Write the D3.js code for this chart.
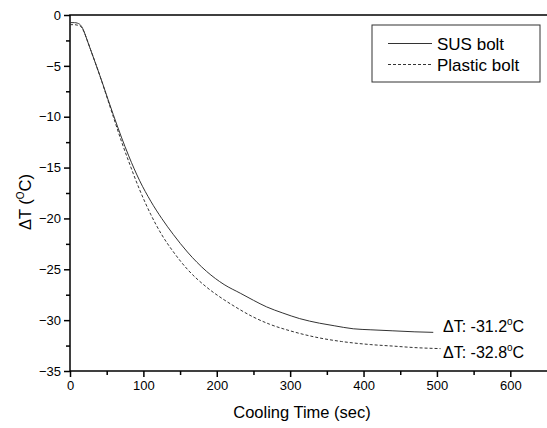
<!DOCTYPE html>
<html>
<head>
<meta charset="utf-8">
<script src="https://cdn.jsdelivr.net/npm/d3@7"></script>
<style>
  body { margin: 0; background: #fff; }
  svg { display: block; }
  svg text { font-family: "Liberation Sans", Arial, sans-serif; fill: #000; }
</style>
</head>
<body>
<svg id="chart" width="547" height="428"></svg>
<script>
// ---- data ----
const susTime  = [0, 6, 10, 13, 16, 19, 23, 28, 36, 45, 52, 59, 70, 80, 95, 110, 125, 141, 160, 186, 210, 232, 250, 268, 290, 313, 340, 360, 386, 410, 440, 470, 495];
const susDT    = [-0.75, -0.75, -0.8, -0.9, -1.15, -1.6, -2.4, -3.4, -5.0, -6.85, -8.35, -9.8, -12.0, -13.85, -16.3, -18.3, -20.0, -21.6, -23.3, -25.2, -26.5, -27.35, -28.05, -28.7, -29.3, -29.85, -30.3, -30.55, -30.85, -30.95, -31.05, -31.15, -31.2];
const plasticTime = [0, 6, 10, 13, 16, 19, 23, 28, 36, 45, 52, 59, 70, 80, 95, 110, 125, 141, 160, 186, 210, 222, 250, 272, 300, 340, 370, 409, 440, 470, 505];
const plasticDT   = [-0.95, -0.95, -1.0, -1.05, -1.25, -1.65, -2.4, -3.4, -5.0, -6.9, -8.45, -10.0, -12.4, -14.4, -17.2, -19.6, -21.6, -23.3, -25.0, -26.75, -28.0, -28.55, -29.7, -30.4, -31.05, -31.75, -32.1, -32.4, -32.55, -32.7, -32.8];
const seriesNames = ["SUS bolt", "Plastic bolt"];
const xTicks = [0, 100, 200, 300, 400, 500, 600];
const yTicks = [0, -5, -10, -15, -20, -25, -30, -35];
const annotations = ["-31.2", "-32.8"];

// ---- layout ----
const svg = d3.select("#chart");
const L = 70, R = 547, T = 15, B = 371;
const FONT = "'Liberation Sans', Arial, sans-serif";
const x = d3.scaleLinear().domain([0, 650]).range([L, R]);
const y = d3.scaleLinear().domain([-35, 0]).range([B, T]);

// frame
svg.append("rect").attr("x", L).attr("y", T).attr("width", R + 5 - L).attr("height", B - T)
  .attr("fill", "none").attr("stroke", "#000").attr("stroke-width", 1.5);

// minor ticks
const xMinor = d3.range(50, 650, 100);
const yMinor = d3.range(-2.5, -35, -5);
svg.append("g").attr("transform", `translate(0,${B})`)
  .call(d3.axisBottom(x).tickValues(xMinor).tickSize(4).tickFormat(""))
  .call(g => g.select(".domain").remove())
  .selectAll("line").attr("stroke-width", 1.5);
svg.append("g").attr("transform", `translate(${L},0)`)
  .call(d3.axisLeft(y).tickValues(yMinor).tickSize(4).tickFormat(""))
  .call(g => g.select(".domain").remove())
  .selectAll("line").attr("stroke-width", 1.5);

// major ticks
const gx = svg.append("g").attr("transform", `translate(0,${B})`)
  .call(d3.axisBottom(x).tickValues(xTicks).tickSize(6).tickPadding(4).tickFormat(d3.format("d")))
  .attr("font-family", FONT).attr("font-size", 13);
gx.select(".domain").remove();
gx.selectAll("line").attr("stroke-width", 1.5);

const gy = svg.append("g").attr("transform", `translate(${L},0)`)
  .call(d3.axisLeft(y).tickValues(yTicks).tickSize(6).tickPadding(3).tickFormat(d3.format("d")))
  .attr("font-family", FONT).attr("font-size", 13);
gy.select(".domain").remove();
gy.selectAll("line").attr("stroke-width", 1.5);

// lines
const line = d3.line().x(d => x(d[0])).y(d => y(d[1])).curve(d3.curveMonotoneX);
const susData = susTime.map((t, i) => [t, susDT[i]]);
const plData = plasticTime.map((t, i) => [t, plasticDT[i]]);
svg.append("path").datum(susData).attr("d", line)
  .attr("fill", "none").attr("stroke", "#333").attr("stroke-width", 1);
svg.append("path").datum(plData).attr("d", line)
  .attr("fill", "none").attr("stroke", "#333").attr("stroke-width", 1).attr("stroke-dasharray", "3,2");

// axis titles
svg.append("text").attr("x", 302).attr("y", 418).attr("text-anchor", "middle")
  .attr("font-size", 16.5).text("Cooling Time (sec)");
const yt = svg.append("text").attr("transform", "translate(31,202) rotate(-90)")
  .attr("text-anchor", "middle").attr("font-size", 16.5);
yt.append("tspan").text("\u0394T (");
yt.append("tspan").attr("font-size", 10).attr("dy", -7).text("O");
yt.append("tspan").attr("dy", 7).text("C)");

// legend
const lg = svg.append("g");
lg.append("rect").attr("x", 372).attr("y", 25).attr("width", 168).attr("height", 57)
  .attr("fill", "#fff").attr("stroke", "#333").attr("stroke-width", 1);
[0, 1].forEach(i => {
  const ly = 43.5 + i * 21;
  lg.append("line").attr("x1", 388).attr("x2", 432).attr("y1", ly).attr("y2", ly)
    .attr("stroke", "#333").attr("stroke-width", 1)
    .attr("stroke-dasharray", i === 1 ? "3,2" : null);
  lg.append("text").attr("x", 437).attr("y", ly + 6).attr("font-size", 17).text(seriesNames[i]);
});

// annotations
const annY = [332, 358];
annotations.forEach((v, i) => {
  const t = svg.append("text").attr("x", 443).attr("y", annY[i]).attr("font-size", 16);
  t.append("tspan").text("\u0394T: " + v);
  t.append("tspan").attr("font-size", 10).attr("dy", -7).text("o");
  t.append("tspan").attr("dy", 7).text("C");
});
</script>
</body>
</html>
